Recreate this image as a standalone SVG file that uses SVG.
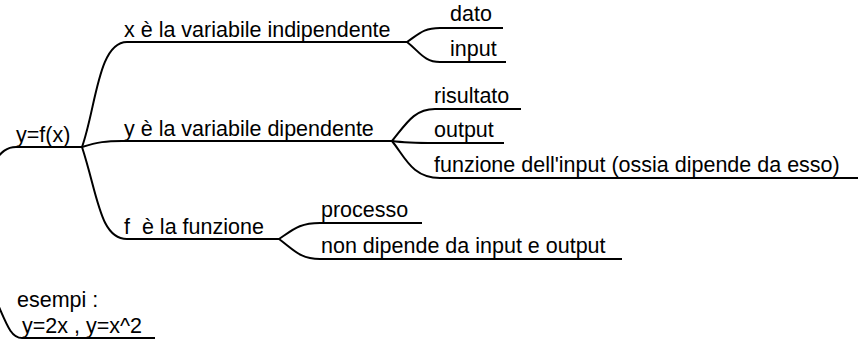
<svg xmlns="http://www.w3.org/2000/svg" width="858" height="342" viewBox="0 0 858 342">
<style>
text{font-family:"Liberation Sans",Arial,sans-serif;font-size:21.5px;fill:#000;white-space:pre}
.c path{fill:none;stroke:#000;stroke-width:2}
</style>
<rect width="858" height="342" fill="#fff"/>
<g class="c" id="connectors">
<path d="M-10,165 C2,152 6,147 16,147 L82,147"/>
<path d="M82,147 C96,108 98,42 127,42 L407,42"/>
<path d="M82,147 C98,142 106,141 122,141 L392,141"/>
<path d="M82,147 C98,196 100,239 127,239 L279,239"/>
<path d="M407,42 C420,33 424,28 440,28 L503,28"/>
<path d="M407,42 C420,52 424,62 440,62 L506,62"/>
<path d="M392,141 C406,124 414,109 435,109 L521,109"/>
<path d="M392,141 C406,143 414,143 435,143 L504,143"/>
<path d="M392,141 C405,157 412,178 440,178 L858,178"/>
<path d="M279,239 C294,229 300,223 320,223 L422,223"/>
<path d="M279,239 C294,250 300,259 320,259 L622,259"/>
<path d="M-5,298 C6,322 10,338 22,338 L155,338"/>
</g>
<g id="root"><text x="16" y="142">y=f(x)</text></g>
<g id="n-x"><text x="124" y="37">x è la variabile indipendente</text></g>
<g id="n-dato"><text x="450" y="21">dato</text></g>
<g id="n-input"><text x="450" y="56">input</text></g>
<g id="n-y"><text x="124" y="136">y è la variabile dipendente</text></g>
<g id="n-risultato"><text x="434" y="103">risultato</text></g>
<g id="n-output"><text x="434" y="137">output</text></g>
<g id="n-funzione"><text x="434" y="172">funzione dell'input (ossia dipende da esso)</text></g>
<g id="n-f"><text x="124" y="234">f  è la funzione</text></g>
<g id="n-processo"><text x="321" y="217">processo</text></g>
<g id="n-nondip"><text x="321" y="253">non dipende da input e output</text></g>
<g id="n-esempi"><text x="17" y="307">esempi :</text><text x="22" y="333">y=2x , y=x^2</text></g>
</svg>
